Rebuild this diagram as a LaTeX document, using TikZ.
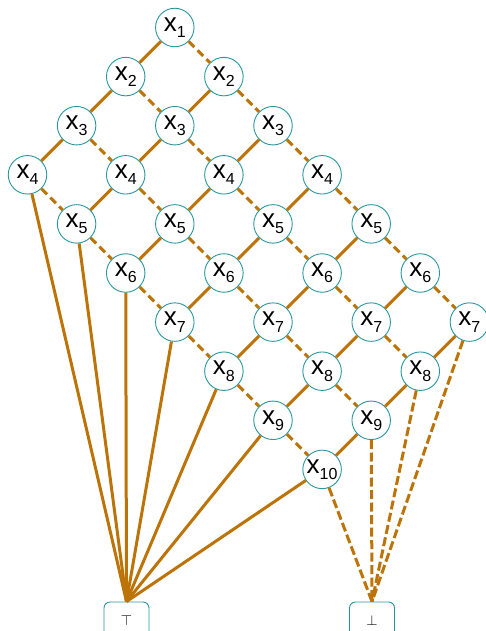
\documentclass[tikz,border=0pt]{standalone}
\usepackage{fontspec}
\setmainfont{Liberation Sans}
\definecolor{edgecol}{RGB}{188,116,8}
\definecolor{ringcol}{RGB}{40,150,160}
\newcommand{\xv}[1]{x\raisebox{-0.45ex}{\fontsize{16}{16}\selectfont #1}}
\begin{document}
\begin{tikzpicture}[x=1pt,y=-1pt,
 var/.style={circle, draw=ringcol, line width=0.9pt, minimum size=38.5pt, inner sep=0pt, font=\fontsize{26}{26}\selectfont},
 term/.style={draw=ringcol, rounded corners=6pt, minimum width=45pt, minimum height=36pt, line width=0.9pt, inner sep=0pt, font=\fontsize{14}{14}\selectfont},
 hi/.style={draw=edgecol, line width=3pt},
 lo/.style={draw=edgecol, line width=3pt, dash pattern=on 8pt off 4.5pt},
 lolong/.style={draw=edgecol, line width=3pt, dash pattern=on 9pt off 3.5pt},
]
\useasboundingbox (0,0) rectangle (485,631);
\foreach \r/\ks in {1/{3},2/{2,4},3/{1,3,5},4/{0,2,4,6},5/{1,3,5,7},6/{2,4,6,8},7/{3,5,7,9},8/{4,6,8},9/{5,7},10/{6}}{
  \foreach \k in \ks {
    \node[var] (n\r-\k) at ({27.5+49.1*\k},{27.5+49.1*(\r-1)}) {\xv{\r}};
  }
}
\node[term] (top) at (126.5,620) {$\top$};
\node[term] (bot) at (372,620) {$\bot$};
% solid (high) edges
\foreach \a/\b in {1-3/2-2, 2-2/3-1, 2-4/3-3, 3-1/4-0, 3-3/4-2, 3-5/4-4, 4-2/5-1, 4-4/5-3, 4-6/5-5, 5-3/6-2, 5-5/6-4, 5-7/6-6, 6-4/7-3, 6-6/7-5, 6-8/7-7, 7-5/8-4, 7-7/8-6, 7-9/8-8, 8-6/9-5, 8-8/9-7, 9-7/10-6}
  \draw[hi] (n\a) -- (n\b);
\foreach \a in {4-0,5-1,6-2,7-3,8-4,9-5,10-6}
  \draw[hi] (n\a) -- (top.north);
% dashed (low) edges
\foreach \a/\b in {1-3/2-4, 2-2/3-3, 2-4/3-5, 3-1/4-2, 3-3/4-4, 3-5/4-6, 4-0/5-1, 4-2/5-3, 4-4/5-5, 4-6/5-7, 5-1/6-2, 5-3/6-4, 5-5/6-6, 5-7/6-8, 6-2/7-3, 6-4/7-5, 6-6/7-7, 6-8/7-9, 7-3/8-4, 7-5/8-6, 7-7/8-8, 8-4/9-5, 8-6/9-7, 9-5/10-6}
  \draw[lo] (n\a) -- (n\b);
\foreach \a in {7-9,8-8,9-7,10-6}
  \draw[lolong] (n\a) -- (bot.north);
\end{tikzpicture}
\end{document}
